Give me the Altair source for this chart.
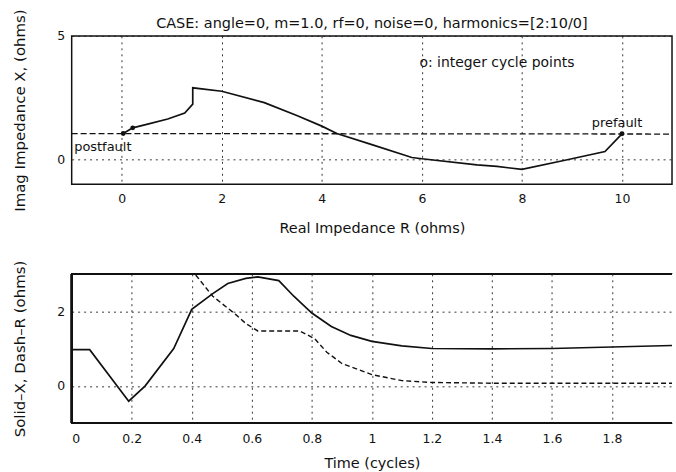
import altair as alt
import pandas as pd

TITLE = "CASE: angle=0, m=1.0, rf=0, noise=0, harmonics=[2:10/0]"
FONT = "DejaVu Sans"

# ---- Top panel: impedance trajectory (R, X), prefault -> postfault ----
traj_R = [10.0, 9.66, 8.86, 8.0, 7.5, 7.1, 6.0, 5.8, 5.0, 4.3, 4.0, 3.5, 2.85, 2.0, 1.42, 1.42, 1.26, 0.92, 0.5, 0.22, 0.03]
traj_X = [1.04, 0.32, -0.03, -0.40, -0.28, -0.22, 0.03, 0.08, 0.60, 1.05, 1.35, 1.78, 2.30, 2.76, 2.90, 2.24, 1.88, 1.64, 1.42, 1.28, 1.05]

# integer cycle points
cyc_R = [10.0, 0.22, 0.03]
cyc_X = [1.04, 1.28, 1.05]

# dashed reference line
ref_R = [-1.0, 11.0]
ref_X = [1.05, 1.03]

# ---- Bottom panel: X (solid) and R (dashed) vs time ----
t_x = [0, 0.06, 0.19, 0.245, 0.34, 0.40, 0.47, 0.52, 0.58, 0.62, 0.69, 0.74, 0.80, 0.865, 0.93, 1.0, 1.1, 1.2, 1.4, 1.6, 1.8, 2.0]
x_vals = [0.97, 0.97, -0.41, 0.0, 1.0, 2.05, 2.47, 2.74, 2.88, 2.92, 2.82, 2.4, 1.95, 1.59, 1.35, 1.19, 1.07, 1.0, 0.99, 1.0, 1.04, 1.08]

t_r = [0.38, 0.41, 0.47, 0.545, 0.58, 0.62, 0.76, 0.81, 0.85, 0.90, 1.0, 1.1, 1.2, 1.4, 1.6, 1.8, 2.0]
r_vals = [3.3, 3.0, 2.4, 1.92, 1.67, 1.47, 1.47, 1.26, 0.90, 0.60, 0.30, 0.14, 0.09, 0.07, 0.07, 0.07, 0.07]

top_xticks = [0, 2, 4, 6, 8, 10]
top_yticks = [0, 5]
bot_xticks = [0, 0.2, 0.4, 0.6, 0.8, 1, 1.2, 1.4, 1.6, 1.8]
bot_yticks = [0, 2]

INK = "#111111"
W = 603

traj = pd.DataFrame({"R": traj_R, "X": traj_X, "i": range(len(traj_R))})
cyc = pd.DataFrame({"R": cyc_R, "X": cyc_X})
ref = pd.DataFrame({"R": ref_R, "X": ref_X})
labels = pd.DataFrame({
    "R": [9.9, -0.95, 5.95],
    "X": [1.04, 0.52, 3.9],
    "txt": ["prefault", "postfault", "o: integer cycle points"],
})
title_df = pd.DataFrame({"txt": [TITLE]})

xs_top = alt.Scale(domain=[-1, 11], nice=False, zero=False)
ys_top = alt.Scale(domain=[-1, 5], nice=False, zero=False)

ax_top_x = alt.Axis(values=top_xticks, grid=True, title="Real Impedance R (ohms)",
                    labelPadding=8, titlePadding=17, format="~g")
ax_top_y = alt.Axis(values=top_yticks, grid=True, title="Imag Impedance X, (ohms)",
                    labelPadding=7, titlePadding=29, format="~g")

line_top = alt.Chart(traj).mark_line(color=INK, strokeWidth=1.7).encode(
    x=alt.X("R:Q", scale=xs_top, axis=ax_top_x),
    y=alt.Y("X:Q", scale=ys_top, axis=ax_top_y),
    order="i:Q",
)
ref_line = alt.Chart(ref).mark_line(color=INK, strokeWidth=1.3, strokeDash=[6, 3]).encode(
    x=alt.X("R:Q", scale=xs_top), y=alt.Y("X:Q", scale=ys_top)
)
pts = alt.Chart(cyc).mark_circle(color=INK, size=24, opacity=1).encode(
    x=alt.X("R:Q", scale=xs_top), y=alt.Y("X:Q", scale=ys_top)
)
lab_pre = alt.Chart(labels.iloc[[0]]).mark_text(
    font=FONT, fontSize=13, color=INK, align="center", baseline="bottom", dy=-4
).encode(x=alt.X("R:Q", scale=xs_top), y=alt.Y("X:Q", scale=ys_top), text="txt:N")
lab_post = alt.Chart(labels.iloc[[1]]).mark_text(
    font=FONT, fontSize=13, color=INK, align="left", baseline="middle"
).encode(x=alt.X("R:Q", scale=xs_top), y=alt.Y("X:Q", scale=ys_top), text="txt:N")
lab_leg = alt.Chart(labels.iloc[[2]]).mark_text(
    font=FONT, fontSize=14, color=INK, align="left", baseline="middle"
).encode(x=alt.X("R:Q", scale=xs_top), y=alt.Y("X:Q", scale=ys_top), text="txt:N")
title_mark = alt.Chart(title_df).mark_text(
    font=FONT, fontSize=14.5, color=INK, align="center", baseline="middle"
).encode(x=alt.value(W / 2), y=alt.value(-12), text="txt:N")

top = alt.layer(ref_line, line_top, pts, lab_pre, lab_post, lab_leg, title_mark).properties(
    width=W, height=149,
    view=alt.ViewBackground(stroke=INK, strokeWidth=1.5),
)

# ---- bottom ----
dx = pd.DataFrame({"t": t_x, "v": x_vals, "i": range(len(t_x))})
dr = pd.DataFrame({"t": t_r, "v": r_vals, "i": range(len(t_r))})

xs_bot = alt.Scale(domain=[0, 2], nice=False, zero=False)
ys_bot = alt.Scale(domain=[-1, 3], nice=False, zero=False)

ax_bot_x = alt.Axis(values=bot_xticks, grid=True, title="Time (cycles)",
                    labelPadding=9, titlePadding=12, format="~g", domain=False)
ax_bot_y = alt.Axis(values=bot_yticks, grid=True, title="Solid\u2013X, Dash\u2013R (ohms)",
                    labelPadding=7, titlePadding=29, format="~g", domain=False)

solid = alt.Chart(dx).mark_line(color=INK, strokeWidth=1.7, clip=True).encode(
    x=alt.X("t:Q", scale=xs_bot, axis=ax_bot_x),
    y=alt.Y("v:Q", scale=ys_bot, axis=ax_bot_y),
    order="i:Q",
)
dash = alt.Chart(dr).mark_line(color=INK, strokeWidth=1.4, strokeDash=[5, 3], clip=True).encode(
    x=alt.X("t:Q", scale=xs_bot), y=alt.Y("v:Q", scale=ys_bot), order="i:Q"
)
border_top = alt.Chart(dx).mark_rule(color=INK, strokeWidth=1.5).encode(
    x=alt.value(0), x2=alt.value(W), y=alt.value(0)
)
border_bot = alt.Chart(dx).mark_rule(color=INK, strokeWidth=1.5).encode(
    x=alt.value(0), x2=alt.value(W), y=alt.value(150)
)
border_left = alt.Chart(dx).mark_rule(color=INK, strokeWidth=1.5).encode(
    x=alt.value(0), y=alt.value(0), y2=alt.value(150)
)

bottom = alt.layer(solid, dash, border_top, border_bot, border_left).properties(
    width=W, height=150,
    view=alt.ViewBackground(stroke="transparent"),
)

chart = alt.vconcat(top, bottom, spacing=23).properties(
    padding={"left": 12, "top": 7, "right": 0, "bottom": 1},
    background="white",
).configure_axis(
    labelFont=FONT, titleFont=FONT, labelFontSize=12.5,
    titleFontWeight="normal", labelColor=INK, titleColor=INK,
    tickSize=0, domain=False,
    gridColor="#222222", gridDash=[2, 4], gridWidth=1, gridOpacity=0.9,
).configure_axisX(titleFontSize=14.5).configure_axisY(titleFontSize=15).configure_view(stroke=INK)

chart.save("out.html", embed_options={"renderer": "svg", "actions": False})
